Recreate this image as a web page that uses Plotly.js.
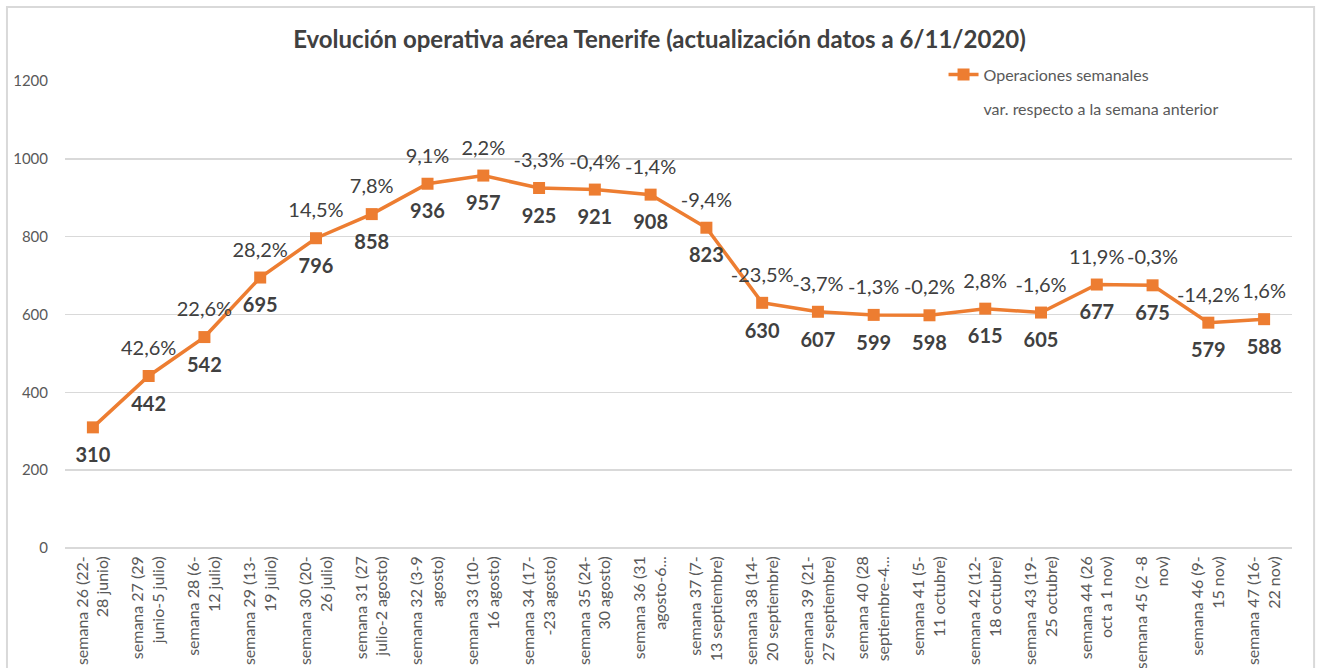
<!DOCTYPE html>
<html>
<head>
<meta charset="utf-8">
<script src="https://cdn.plot.ly/plotly-3.0.1.min.js"></script>
<style>
html,body{margin:0;padding:0;background:#fff;}
#chart{width:1319px;height:668px;}
</style>
</head>
<body>
<div id="chart"></div>
<script>
const categories = [
  "semana 26 (22-<br>28 junio)",
  "semana 27 (29<br>junio-5 julio)",
  "semana 28 (6-<br>12 julio)",
  "semana 29 (13-<br>19 julio)",
  "semana 30 (20-<br>26 julio)",
  "semana 31 (27<br>julio-2 agosto)",
  "semana 32 (3-9<br>agosto)",
  "semana 33 (10-<br>16 agosto)",
  "semana 34 (17-<br>-23 agosto)",
  "semana 35 (24-<br>30 agosto)",
  "semana 36 (31<br>agosto-6...",
  "semana 37 (7-<br>13 septiembre)",
  "semana 38 (14-<br>20 septiembre)",
  "semana 39 (21-<br>27 septiembre)",
  "semana 40 (28<br>septiembre-4...",
  "semana 41 (5-<br>11 octubre)",
  "semana 42 (12-<br>18 octubre)",
  "semana 43 (19-<br>25 octubre)",
  "semana 44 (26<br>oct a 1 nov)",
  "semana 45 (2 -8<br>nov)",
  "semana 46 (9-<br>15 nov)",
  "semana 47 (16-<br>22 nov)"
];
const operaciones = [310, 442, 542, 695, 796, 858, 936, 957, 925, 921, 908, 823, 630, 607, 599, 598, 615, 605, 677, 675, 579, 588];
const variacion = ["", "42,6%", "22,6%", "28,2%", "14,5%", "7,8%", "9,1%", "2,2%", "-3,3%", "-0,4%", "-1,4%", "-9,4%", "-23,5%", "-3,7%", "-1,3%", "-0,2%", "2,8%", "-1,6%", "11,9%", "-0,3%", "-14,2%", "1,6%"];
const yTicks = [0, 200, 400, 600, 800, 1000, 1200];

const orange = "#ED7D31";
const FONT = "Lato, 'Open Sans', sans-serif";

const traces = [
  {
    type: "scatter",
    mode: "lines+markers",
    name: "Operaciones semanales",
    legendgroup: "a",
    x: categories,
    y: operaciones,
    line: {color: orange, width: 3.5},
    marker: {color: orange, size: 12, symbol: "square"},
    hoverinfo: "skip"
  },
  {
    type: "scatter",
    mode: "markers+text",
    showlegend: false,
    x: categories,
    y: operaciones,
    text: operaciones.map(String),
    textposition: "bottom center",
    texttemplate: "<b>%{text}</b>",
    textfont: {family: FONT, size: 20, color: "#404040"},
    marker: {color: "rgba(0,0,0,0)", size: 30},
    cliponaxis: false,
    hoverinfo: "skip"
  },
  {
    type: "scatter",
    mode: "lines+markers+text",
    name: "var. respecto a la semana anterior",
    legendgroup: "b",
    x: categories,
    y: operaciones,
    text: variacion,
    textposition: "top center",
    textfont: {family: FONT, size: 20, color: "#404040"},
    marker: {color: "rgba(0,0,0,0)", size: 24},
    line: {color: "rgba(0,0,0,0)", width: 0},
    cliponaxis: false,
    hoverinfo: "skip"
  }
];

const layout = {
  width: 1319,
  height: 668,
  paper_bgcolor: "#ffffff",
  plot_bgcolor: "#ffffff",
  margin: {l: 65, r: 27, t: 81, b: 120},
  font: {family: FONT, color: "#595959"},
  title: {
    text: "<b>Evolución operativa aérea Tenerife (actualización datos a 6/11/2020)</b>",
    font: {family: FONT, size: 24, color: "#404040"},
    x: 0.5,
    xanchor: "center",
    y: 0.94,
    yanchor: "middle"
  },
  xaxis: {
    type: "category",
    range: [-0.5, categories.length - 0.5],
    autorange: false,
    tickangle: -90,
    tickfont: {family: FONT, size: 16, color: "#595959"},
    showgrid: false,
    showline: false,
    zeroline: false,
    ticks: "",
    ticklabelstandoff: 4,
    automargin: false
  },
  yaxis: {
    range: [0, 1200],
    autorange: false,
    tickvals: yTicks,
    ticktext: yTicks.map(String),
    tickfont: {family: FONT, size: 15, color: "#595959"},
    gridcolor: "#d9d9d9",
    gridwidth: 1.5,
    showline: false,
    zeroline: true,
    zerolinecolor: "#d9d9d9",
    zerolinewidth: 1.5,
    ticks: "",
    ticklabelstandoff: 16,
    automargin: false
  },
  legend: {
    x: 0.716,
    y: 1.05,
    xanchor: "left",
    yanchor: "top",
    bgcolor: "rgba(255,255,255,0)",
    font: {family: FONT, size: 16, color: "#595959"},
    tracegroupgap: 10,
    itemwidth: 30
  },
  showlegend: true,
  shapes: [
    {
      type: "rect",
      xref: "paper", yref: "paper",
      x0: -0.0473, x1: 1.0180, y0: -0.35, y1: 1.1585,
      line: {color: "#d9d9d9", width: 2},
      fillcolor: "rgba(0,0,0,0)",
      layer: "below"
    }
  ]
};

Plotly.newPlot("chart", traces, layout, {displayModeBar: false, staticPlot: true});
</script>
</body>
</html>
